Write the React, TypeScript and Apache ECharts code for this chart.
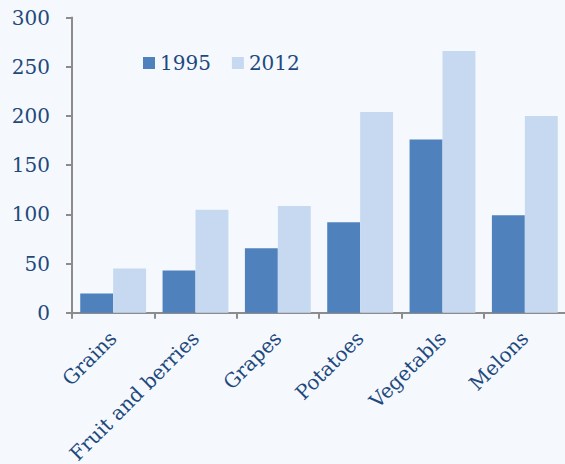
import React, { useEffect, useRef } from "react";
import * as echarts from "echarts";

const categories = ["Grains", "Fruit and berries", "Grapes", "Potatoes", "Vegetabls", "Melons"];
const values1995 = [19.5, 43, 65.5, 92, 176, 99];
const values2012 = [45, 104.5, 108.5, 204, 266, 200];
const seriesNames = ["1995", "2012"];

const FONT = "DejaVu Serif";
const TEXT = "#1F497D";

export default function App() {
  const ref = useRef<HTMLDivElement>(null);
  useEffect(() => {
    document.body.style.margin = "0";
    const chart = echarts.init(ref.current!, null, { renderer: "svg" });
    chart.setOption({
      animation: false,
      backgroundColor: "#F5F9FE",
      textStyle: { fontFamily: FONT, color: TEXT },
      legend: {
        data: seriesNames,
        left: 138,
        top: 48,
        itemWidth: 12,
        itemHeight: 12,
        itemGap: 21,
        icon: "rect",
        textStyle: { fontFamily: FONT, fontSize: 20, color: TEXT, padding: [0, 0, 0, 0] },
      },
      grid: {
        left: 72,
        right: -1,
        top: 17.5,
        bottom: 151.3,
        containLabel: false,
        outerBoundsMode: "none",
      },
      xAxis: {
        type: "category",
        data: categories,
        axisLine: { lineStyle: { color: "#8C8C8C", width: 2 } },
        axisTick: { show: true, length: 6, lineStyle: { color: "#8C8C8C", width: 2 } },
        axisLabel: { rotate: 45, fontFamily: FONT, fontSize: 20, color: TEXT, margin: 22, interval: 0 },
      },
      yAxis: {
        type: "value",
        min: 0,
        max: 300,
        interval: 50,
        splitLine: { show: false },
        axisLine: { show: true, lineStyle: { color: "#8C8C8C", width: 2 } },
        axisTick: { show: true, length: 6, lineStyle: { color: "#8C8C8C", width: 2 } },
        axisLabel: { fontFamily: FONT, fontSize: 20, color: TEXT, margin: 22 },
      },
      series: [
        {
          name: seriesNames[0],
          type: "bar",
          data: values1995,
          barGap: "0%",
          barCategoryGap: "20%",
          itemStyle: { color: "#4F81BD" },
        },
        {
          name: seriesNames[1],
          type: "bar",
          data: values2012,
          barGap: "0%",
          barCategoryGap: "20%",
          itemStyle: { color: "#C6D9F0" },
        },
      ],
    });
    return () => chart.dispose();
  }, []);
  return <div ref={ref} style={{ width: 565, height: 464 }} />;
}
